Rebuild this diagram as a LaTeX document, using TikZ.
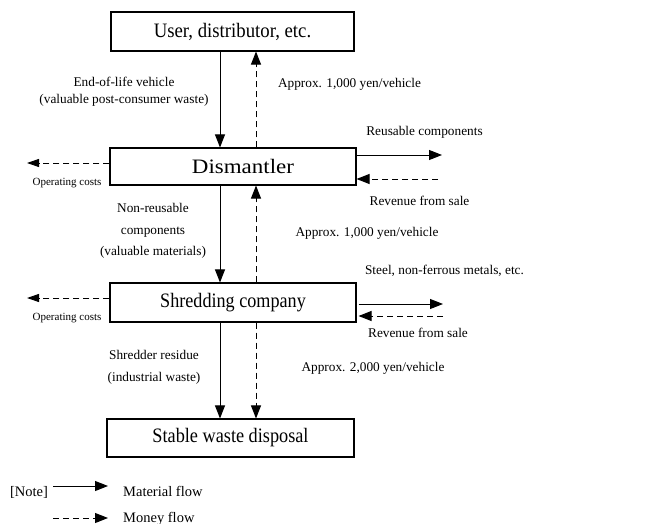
\documentclass[tikz,border=0pt]{standalone}
\usepackage{graphicx}
\usepackage{fontspec}
\setmainfont{Liberation Serif}
\usetikzlibrary{arrows.meta}
% narrow or widen a one-line caption horizontally
\newcommand\hstretch[2]{\scalebox{#1}[1]{#2}}
\begin{document}
\begin{tikzpicture}[x=1pt,y=-1pt,
  stage/.style={draw, line width=1.1pt, rectangle, inner sep=0pt,
    font=\fontsize{20.5}{24}\selectfont},
  lbl/.style={font=\fontsize{13.3}{16}\selectfont, inner sep=0pt, align=center},
  small/.style={font=\fontsize{11}{13}\selectfont, inner sep=0pt},
  legend/.style={font=\fontsize{14.5}{17}\selectfont, inner sep=0pt},
  mat/.style={-{Triangle[length=13pt,width=10pt]}, line width=1pt},
  money/.style={mat, dash pattern=on 6pt off 4pt},
  sidemoney/.style={-{Triangle[length=12pt,width=8pt]}, line width=1pt, dash pattern=on 6pt off 4pt}]
\clip (0,0) rectangle (650,524);
\fill[white] (0,0) rectangle (650,524);

% stages of the recycling chain
\node[stage, minimum width=243pt, minimum height=39pt] (user) at (232.5,31.5) {\hstretch{0.915}{User, distributor, etc.}};
\node[stage, minimum width=246pt, minimum height=37pt] (dism) at (233,166.5) {\hspace{20pt}\hstretch{1.12}{Dismantler}};
\node[stage, minimum width=246pt, minimum height=39pt] (shred) at (233,302.5) {\hstretch{0.885}{Shredding company}};
\node[stage, minimum width=247pt, minimum height=38pt] (disp) at (230.5,438) {\hstretch{0.89}{Stable waste disposal}};

% columns for the vertical flows
\coordinate (sx) at (220,0);
\coordinate (dx) at (256,0);

% vertical material and money flows
\draw[mat] (user.south -| sx) -- (dism.north -| sx);
\draw[money] (dism.north -| dx) -- (user.south -| dx);
\draw[mat] (dism.south -| sx) -- (shred.north -| sx);
\draw[money] (shred.north -| dx) -- (dism.south -| dx);
\draw[mat] (shred.south -| sx) -- (disp.north -| sx);
\draw[money] (shred.south -| dx) -- (disp.north -| dx);

% operating costs on the left
\coordinate (oc1) at (27,163);
\coordinate (oc2) at (27,298);
\draw[sidemoney] (dism.west |- oc1) -- (oc1);
\draw[sidemoney] (shred.west |- oc2) -- (oc2);
\node[small] (ocl1) at (67,183) {Operating costs};
\node[small] (ocl2) at (67,318) {Operating costs};

% sales on the right
\coordinate (ru) at (442,155);
\coordinate (rv1) at (438,179);
\coordinate (st) at (443,304);
\coordinate (rv2) at (443,316);
\draw[mat] (dism.east |- ru) -- (ru);
\draw[money] (rv1) -- (dism.east |- rv1);
\draw[mat] ([xshift=2pt]shred.east |- st) -- (st);
\draw[money] (rv2) -- ([xshift=2pt]shred.east |- rv2);

% flow labels
\node[lbl] (l1) at (124,92) {End-of-life vehicle\\[1pt](valuable post-consumer waste)};
\node[lbl] (m1) at (349.5,84) {Approx. 1,000 yen/vehicle};
\node[lbl] (r1) at (424.5,132) {Reusable components};
\node[lbl] (s1) at (419.5,201) {Revenue from sale};
\node[lbl] (l2) at (153,231) {Non-reusable\\[6pt]components\\[5pt](valuable materials)};
\node[lbl] (m2) at (367,233) {Approx. 1,000 yen/vehicle};
\node[lbl] (r2) at (444.5,271) {Steel, non-ferrous metals, etc.};
\node[lbl] (s2) at (418,333) {Revenue from sale};
\node[lbl] (l3) at (154,367) {Shredder residue\\[6pt](industrial waste)};
\node[lbl] (m3) at (373,368) {Approx. 2,000 yen/vehicle};

% legend
\node[legend] (note) at (29,492) {[Note]};
\coordinate (ma) at (53,486);
\coordinate (mb) at (108,486);
\coordinate (na) at (53,518);
\coordinate (nb) at (108,518);
\draw[mat] (ma) -- (mb);
\draw[money] (na) -- (nb);
\node[legend, anchor=west] (mf) at (123,491) {Material flow};
\node[legend, anchor=base west] (nf) at (123,522) {Money flow};
\end{tikzpicture}
\end{document}
